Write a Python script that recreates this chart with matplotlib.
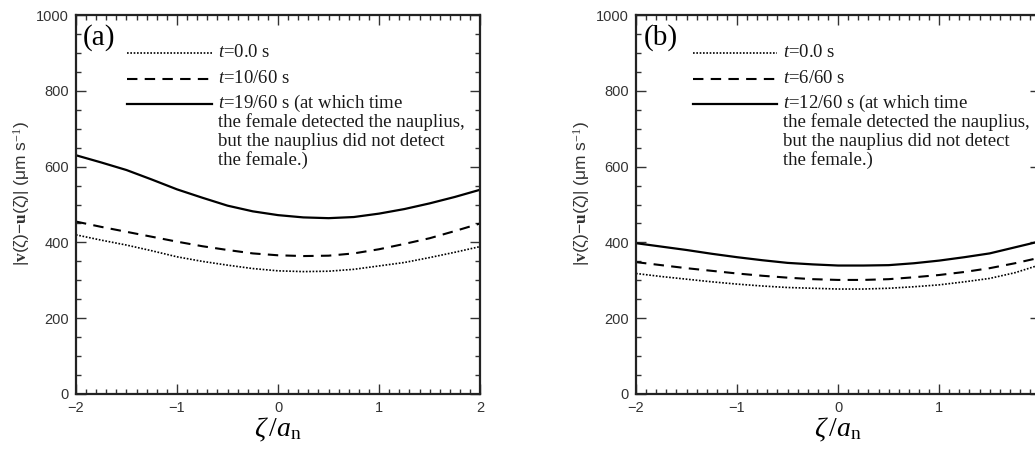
import numpy as np
import matplotlib.pyplot as plt
from matplotlib.ticker import MultipleLocator

plt.rcParams['mathtext.fontset'] = 'custom'
plt.rcParams['mathtext.rm'] = 'Liberation Serif'
plt.rcParams['mathtext.it'] = 'Liberation Serif:italic'
plt.rcParams['mathtext.bf'] = 'Liberation Serif:bold'

# ------------------------------------
# data
# ------------------------------------
zeta = [-2.0, -1.75, -1.5, -1.25, -1.0, -0.75, -0.5, -0.25, 0.0,
        0.25, 0.5, 0.75, 1.0, 1.25, 1.5, 1.75, 2.0]

a_t0 = [420, 406, 393, 378, 362, 350, 340, 331, 325, 323, 324, 329, 338, 347, 360, 374, 389]
a_t1 = [455, 441, 428, 415, 402, 390, 380, 371, 366, 364, 365, 371, 382, 396, 411, 430, 450]
a_t2 = [630, 611, 591, 566, 540, 518, 497, 482, 472, 466, 464, 467, 476, 488, 503, 520, 539]

b_t0 = [318, 310, 303, 296, 290, 285, 281, 279, 277, 277, 279, 283, 288, 296, 305, 320, 341]
b_t1 = [348, 340, 332, 325, 318, 312, 307, 303, 301, 301, 303, 308, 314, 322, 332, 345, 360]
b_t2 = [398, 389, 380, 370, 361, 353, 346, 342, 339, 339, 340, 345, 352, 361, 371, 387, 403]

xticks = [-2, -1, 0, 1, 2]
labels_a = ["0.0 s", "10/60 s", "19/60 s (at which time"]
labels_b = ["0.0 s", "6/60 s", "12/60 s (at which time"]
note = "the female detected the nauplius,\nbut the nauplius did not detect\nthe female.)"

serif = "Liberation Serif"
sans = "Liberation Sans"

fig = plt.figure(figsize=(10.35, 4.49), dpi=100)
ax_a = fig.add_axes([0.0734, 0.1225, 0.3905, 0.844])
ax_b = fig.add_axes([0.6145, 0.1225, 0.3905, 0.844])

styles = [dict(ls=(0, (1, 1)), lw=1.2),
          dict(ls=(0, (5, 3.5)), lw=1.5),
          dict(ls='-', lw=1.6)]


def draw(ax, series, labels, tag, leg_x0, leg_x1, xlabs):
    for ys, st in zip(series, styles):
        ax.plot(zeta, ys, color='black', **st)

    ax.set_xlim(-2, 2)
    ax.set_ylim(0, 1000)
    ax.set_xticks(xticks, xlabs)
    ax.xaxis.set_minor_locator(MultipleLocator(0.1))
    ax.yaxis.set_major_locator(MultipleLocator(200))
    ax.yaxis.set_minor_locator(MultipleLocator(50))
    ax.tick_params(which='both', direction='in', top=True, right=True,
                   width=1.0, colors='#333333', labelcolor='#333333')
    ax.tick_params(which='major', length=7, labelsize=10.5, pad=5)
    ax.tick_params(which='minor', length=3.5)
    for lab in ax.get_xticklabels() + ax.get_yticklabels():
        lab.set_fontfamily(sans)
    for sp in ax.spines.values():
        sp.set_linewidth(1.6)
        sp.set_color('#222222')

    ax.set_xlabel(r'$\zeta\,/a_{\mathrm{n}}$', fontsize=20, labelpad=1)
    ax.set_ylabel(r'|$\mathbf{v}$(ζ)−$\mathbf{u}$(ζ)| (μm s$^{-1}$)',
                  fontsize=12.5, family=sans, color='#333333')
    ax.yaxis.set_label_coords(-0.108, 0.53)

    ax.text(0.018, 0.975, tag, transform=ax.transAxes, fontsize=21,
            family=serif, va='top', ha='left')

    ys_leg = [900, 832, 766]
    for y, st, lab in zip(ys_leg, styles, labels):
        ax.plot([leg_x0, leg_x1], [y, y], color='black', **st)
        ax.text(leg_x1 + 0.06, y, r'$t$=' + lab, fontsize=13.5,
                family=serif, va='center', ha='left', color='#1a1a1a')
    ax.text(leg_x1 + 0.06, ys_leg[2] - 25, note, fontsize=13.5,
            family=serif, va='top', ha='left', linespacing=1.13,
            color='#1a1a1a')


draw(ax_a, [a_t0, a_t1, a_t2], labels_a, "(a)", -1.495, -0.653,
     ['−2', '−1', '0', '1', '2'])
# the right panel is cropped in the original, so its last label is not seen
draw(ax_b, [b_t0, b_t1, b_t2], labels_b, "(b)", -1.436, -0.604,
     ['−2', '−1', '0', '1', ''])

fig.savefig("out.png", dpi=100)
